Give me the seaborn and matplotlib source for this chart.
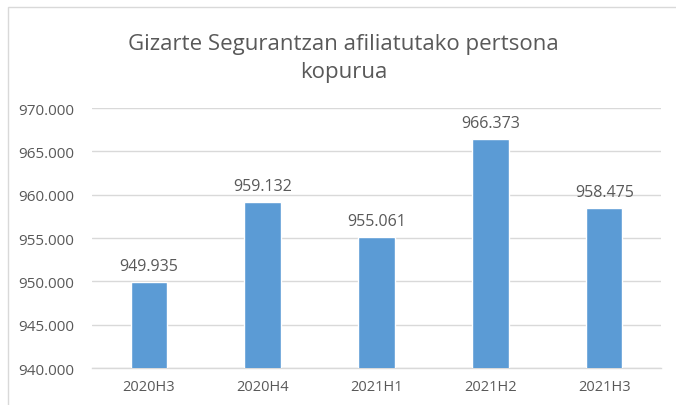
import matplotlib
matplotlib.use('Agg')
import matplotlib.pyplot as plt
import matplotlib.patches as mpatches
import seaborn as sns
import pandas as pd

# === Datos ===
periodos = ['2020H3', '2020H4', '2021H1', '2021H2', '2021H3']
afiliados = [949935, 959132, 955061, 966373, 958475]
marcas_y = [940000, 945000, 950000, 955000, 960000, 965000, 970000]

df = pd.DataFrame({'periodo': periodos, 'afiliados': afiliados})

def miles(v):
    return f'{v:,.0f}'.replace(',', '.')

sns.set_theme(style='white')
plt.rcParams['font.family'] = ['Open Sans', 'DejaVu Sans']

gris = '#595959'
fig = plt.figure(figsize=(6.76, 4.06), dpi=100)
ax = fig.add_axes([0.136, 0.0911, 0.842, 0.6404])

sns.barplot(data=df, x='periodo', y='afiliados', color='#5B9BD5',
            width=0.32, saturation=1, ax=ax, zorder=3)

ax.set_ylim(940000, 970000)
ax.set_yticks(marcas_y)
ax.set_yticklabels([miles(v) for v in marcas_y], color=gris, fontsize=11)
ax.set_xticks(range(len(periodos)))
ax.set_xticklabels(periodos, color=gris, fontsize=10.5)
ax.tick_params(axis='both', length=0)
ax.tick_params(axis='y', pad=13)
ax.tick_params(axis='x', pad=8)
ax.set_xlabel('')
ax.set_ylabel('')
ax.grid(axis='y', color='#D9D9D9', linewidth=1, zorder=0)
for lado in ['top', 'right', 'left']:
    ax.spines[lado].set_visible(False)
ax.spines['bottom'].set_color('#D9D9D9')
ax.spines['bottom'].set_linewidth(1)

# Etiquetas de valor sobre cada barra
for i, v in enumerate(afiliados):
    ax.annotate(miles(v), (i, v), xytext=(0, 6), textcoords='offset points',
                ha='center', va='bottom', color=gris, fontsize=11.5)

fig.text(0.508, 0.856, 'Gizarte Segurantzan afiliatutako pertsona\nkopurua',
         ha='center', va='center', color=gris, fontsize=16, linespacing=1.45)

# Marco del gráfico
fig.patches.append(mpatches.Rectangle((8 / 676, -0.1), 1.2, 1.1 - 8 / 406,
                                      transform=fig.transFigure, fill=False,
                                      edgecolor='#D9D9D9', linewidth=1))

fig.savefig('out.png', dpi=100)
